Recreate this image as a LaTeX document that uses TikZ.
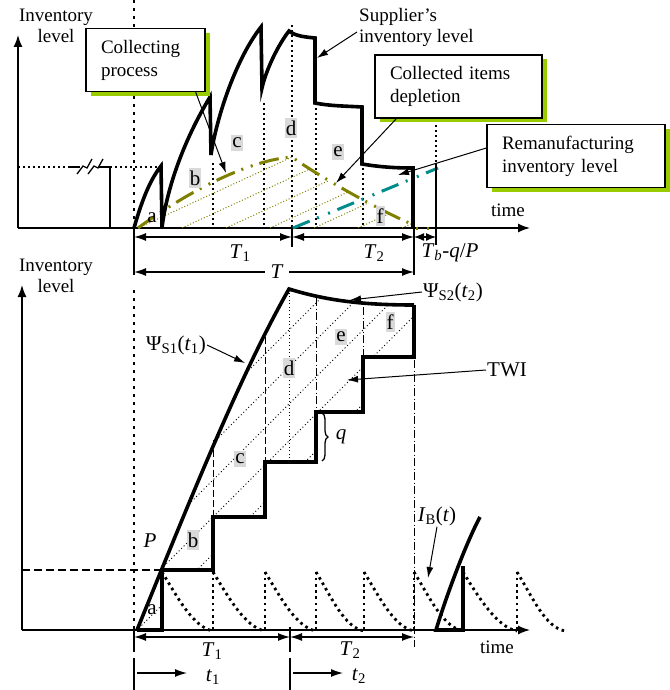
\documentclass[tikz,border=0pt]{standalone}
\usepackage{fontspec}
\setmainfont{Liberation Serif}
\usetikzlibrary{arrows.meta, shadows, decorations.pathreplacing}
\definecolor{olv}{RGB}{128,128,0}
\definecolor{remteal}{RGB}{0,140,140}
\definecolor{shgreen}{RGB}{153,204,0}
\definecolor{lblgray}{RGB}{217,217,217}

\begin{document}
\begin{tikzpicture}[x=1pt, y=-1pt, font=\fontsize{19}{21}\selectfont,
  axis/.style={line width=1.4pt, -{Latex[length=12pt,width=9pt]}},
  thinln/.style={line width=1.3pt},
  supp/.style={line width=3.6pt, line join=miter},
  olvline/.style={olv, line width=3pt, dash pattern=on 20pt off 7pt on 2pt off 8pt on 2pt off 7pt},
  remline/.style={remteal, line width=3pt, dash pattern=on 18pt off 8pt on 2pt off 10pt on 2pt off 8pt},
  hatch/.style={olv, line width=1pt, dash pattern=on 1pt off 2pt},
  hatchk/.style={line width=0.9pt, dash pattern=on 1pt off 2.5pt},
  vdot/.style={line width=1.6pt, dash pattern=on 1.6pt off 3.4pt},
  bigdot/.style={line width=2.6pt, dash pattern=on 2.6pt off 5.4pt},
  sawdot/.style={line width=2.8pt, dash pattern=on 2.6pt off 3.6pt},
  dashv/.style={line width=1pt, dash pattern=on 7pt off 3pt},
  dashdotv/.style={line width=1pt, dash pattern=on 8pt off 2.5pt on 1pt off 2.5pt},
  dotv/.style={line width=1pt, dash pattern=on 1pt off 2.5pt},
  lbl/.style={fill=lblgray, font=\fontsize{21}{24}\selectfont, inner xsep=1pt, inner ysep=2.5pt},
  mlbl/.style={font=\fontsize{21}{24}\selectfont, inner sep=1pt},
  callout/.style={draw, line width=1.3pt, fill=white, align=left, inner xsep=15pt,
    minimum height=63pt, font=\fontsize{19}{23}\selectfont,
    drop shadow={shadow xshift=4.5pt, shadow yshift=-4.5pt, fill=shgreen, opacity=1}},
  callarr/.style={line width=1pt, -{Latex[length=11pt,width=7pt]}},
  dim/.style={line width=1.3pt, {Latex[length=12pt,width=8pt]}-{Latex[length=12pt,width=8pt]}},
  dimsm/.style={line width=1.3pt, {Latex[length=10pt,width=8pt]}-{Latex[length=10pt,width=8pt]}},
  tarr/.style={line width=1.3pt, -{Latex[length=12pt,width=8pt]}}]
\useasboundingbox (0,0) rectangle (669,690);

\draw[axis] (18,228) -- (18,35);
\draw[axis] (18,228) -- (530,228);
\node[align=center] (invtop) at (56,26) {Inventory\\level};
\node (timetop) at (508,210) {time};
\draw[vdot] (18,167) -- (66,167);
\draw[thinln] (68,167) -- (80,167) (98,167) -- (110,167) -- (110,228);
\draw[thinln] (77,174) -- (83,166) -- (87,168) -- (92,159) (88,174) -- (94,166) -- (98,168) -- (103,159);
\draw[vdot] (110,167) -- (160,167);
\draw[bigdot] (134,0) -- (134,228);
\foreach \x/\y in {213/163, 264/103, 292/25, 316/103, 363/163, 436/120}
  \draw[vdot] (\x,\y) -- (\x,228);

\begin{scope}
\clip (138,228) .. controls (190,190) and (250,160) .. (292,157)
  .. controls (315,174) and (380,211) .. (414,225) -- (414,228) -- cycle;
\foreach \s in {0,...,6}
  \draw[hatch] (138+44*\s,228) -- ++(230,-106);
\end{scope}
\draw[olvline] (138,228) .. controls (190,190) and (250,160) .. (292,157)
  .. controls (315,174) and (380,211) .. (414,225);
\draw[olv, line width=3pt, dash pattern=on 2pt off 9pt] (416,228) -- (438,228);
\draw[remline] (293,228) -- (438,168);

\draw[supp] (134,228) .. controls (142,200) and (150,180) .. (161,166) -- (162,228)
  .. controls (165,200) and (178,150) .. (210,97) -- (211,155)
  .. controls (216,120) and (235,60) .. (261,27) -- (262,88)
  .. controls (266,70) and (278,45) .. (289,31)
  .. controls (295,36) and (305,37) .. (315,38) -- (315,103)
  .. controls (330,106) and (345,106) .. (362,107) -- (362,164)
  .. controls (380,167) and (395,168) .. (413,168) -- (413,228);
\draw[line width=2pt] (436,163) -- (436,245);

\node[mlbl] (ta) at (152,218) {a};
\node[lbl] (tb) at (195,178) {b};
\node[lbl] (tc) at (237,143) {c};
\node[lbl] (td) at (291,128) {d};
\node[lbl] (te) at (338,152) {e};
\node[lbl] (tf) at (380,216) {f};

\node[callout, text width=89pt] (collect) at (145.5,60) {Collecting\\process};
\node[callout, text width=137pt] (colitems) at (458.5,86.5) {Collected items\\depletion};
\node[callout, text width=148pt] (reman) at (576,156) {Remanufacturing\\inventory level};
\node[anchor=west, align=left, inner sep=2pt] (supplier) at (357,27) {Supplier’s\\inventory level};
\coordinate (cpTip) at (226,173);
\coordinate (spTip) at (317,58);
\coordinate (ciTip) at (336,183);
\coordinate (rmTip) at (398,175);
\draw[callarr] ([xshift=-10pt]collect.south east) -- (cpTip);
\draw[callarr] ([yshift=-5pt]supplier.west) -- (spTip);
\draw[callarr] ([xshift=22pt]colitems.south west) -- (ciTip);
\draw[callarr] ([yshift=8pt]reman.west) -- (rmTip);

\draw[thinln] (134,228) -- (134,275) (292,228) -- (292,247) (414,228) -- (414,275);
\draw[dim] (134,237) -- (292,237);
\draw[dim] (292,237) -- (414,237);
\draw[dimsm] (414,237) -- (436,237);
\draw[dim] (134,272) -- (414,272);
\node[mlbl, fill=white, inner xsep=6pt] (tT) at (277,272) {\textit{T}};
\node[mlbl] (tT1) at (240,253) {\textit{T}\textsubscript{1}};
\node[mlbl] (tT2) at (374,253) {\textit{T}\textsubscript{2}};
\node[mlbl] (tTb) at (450,253) {\textit{T}\textsubscript{\textit{b}}-\textit{q}/\textit{P}};

\draw[axis] (22,630) -- (22,285);
\draw[axis] (22,630) -- (530,630);
\node[align=center] (invbot) at (56,276) {Inventory\\level};
\node (timebot) at (497,647) {time};
\draw[bigdot] (134,290) -- (134,630);
\draw[line width=1.2pt, dash pattern=on 8pt off 4pt] (22,570) -- (160,570);

\begin{scope}
\clip (137,630) .. controls (190,500) and (240,375) .. (289,289)
  .. controls (325,300) and (360,305) .. (414,305) -- (414,357) -- (363,357)
  -- (363,412) -- (316,412) -- (316,462) -- (265,462) -- (265,517) -- (213,517)
  -- (213,570) -- (162,570) -- (162,630) -- cycle;
\foreach \s in {-4,...,8}
  \draw[hatchk] (160+37*\s,570) ++(-100,100) -- ++(450,-450);
\end{scope}
\draw[dashv] (213,440) -- (213,517);
\draw[dashv] (265,337) -- (265,462);
\draw[dotv] (289,289) -- (289,462);
\draw[dashdotv] (316,298) -- (316,412);
\draw[dashdotv] (363,307) -- (363,357);
\draw[dashdotv] (414,360) -- (414,647);

\foreach \a/\b in {162/213, 213/265, 265/316, 316/364, 364/414, 414/463, 463/517, 517/565}
  \draw[sawdot] (\a,572) .. controls (\a+16,598) and (\b-20,627) .. (\b,631);
\foreach \a in {213,265,316,364,414,463,517}
  \draw[sawdot] (\a,630) -- (\a,572);

\draw[supp] (137,630) -- (162,630) -- (162,570) -- (213,570) -- (213,517) -- (265,517)
  -- (265,462) -- (316,462) -- (316,412) -- (363,412) -- (363,357) -- (414,357) -- (414,305);
\draw[supp] (137,630) .. controls (190,500) and (240,375) .. (289,289)
  .. controls (325,300) and (360,305) .. (414,305);
\draw[supp] (463,566) -- (463,630) -- (436,630) .. controls (445,600) and (465,545) .. (480,517);

\node[mlbl] (ba) at (152,610) {a};
\node[lbl] (bb) at (193,540) {b};
\node[lbl] (bc) at (240,459) {c};
\node[lbl] (bd) at (289,368) {d};
\node[lbl] (be) at (341,337) {e};
\node[lbl] (bf) at (390,322) {f};
\node[mlbl] (pP) at (150,541) {\textit{P}};

\node[mlbl] (psi1) at (176,345) {Ψ\textsubscript{S1}(\textit{t}\textsubscript{1})};
\node[mlbl] (psi2) at (453,292) {Ψ\textsubscript{S2}(\textit{t}\textsubscript{2})};
\node[mlbl] (twi) at (507,370) {TWI};
\node[mlbl] (ib) at (437,516) {\textit{I}\textsubscript{B}(\textit{t})};
\coordinate (ps1Tip) at (245,363);
\coordinate (ps2Tip) at (350,300);
\coordinate (twiTip) at (347,380);
\coordinate (ibTip) at (428,578);
\draw[callarr] (psi1.east) -- (ps1Tip);
\draw[callarr] (psi2.west) -- (ps2Tip);
\draw[callarr] (twi.west) -- (twiTip);
\draw[callarr] (ib.south) -- (ibTip);
\draw[thinln, decorate, decoration={brace, amplitude=6pt}] (322,413) -- (322,461);
\node[mlbl] (qlab) at (341,437) {\textit{q}};

\draw[thinln] (134,630) -- (134,652) (134,658) -- (134,690) (290,627) -- (290,652) (290,658) -- (290,690);
\draw[dim] (134,637) -- (290,637);
\draw[dim] (290,637) -- (414,637);
\node[mlbl] (bT1) at (212,651) {\textit{T}\textsubscript{1}};
\node[mlbl] (bT2) at (350,650) {\textit{T}\textsubscript{2}};
\draw[tarr] (137,673) -- (187,673);
\draw[tarr] (293,673) -- (343,673);
\node[mlbl] (bt1) at (213,677) {\textit{t}\textsubscript{1}};
\node[mlbl] (bt2) at (359,676) {\textit{t}\textsubscript{2}};
\end{tikzpicture}
\end{document}
